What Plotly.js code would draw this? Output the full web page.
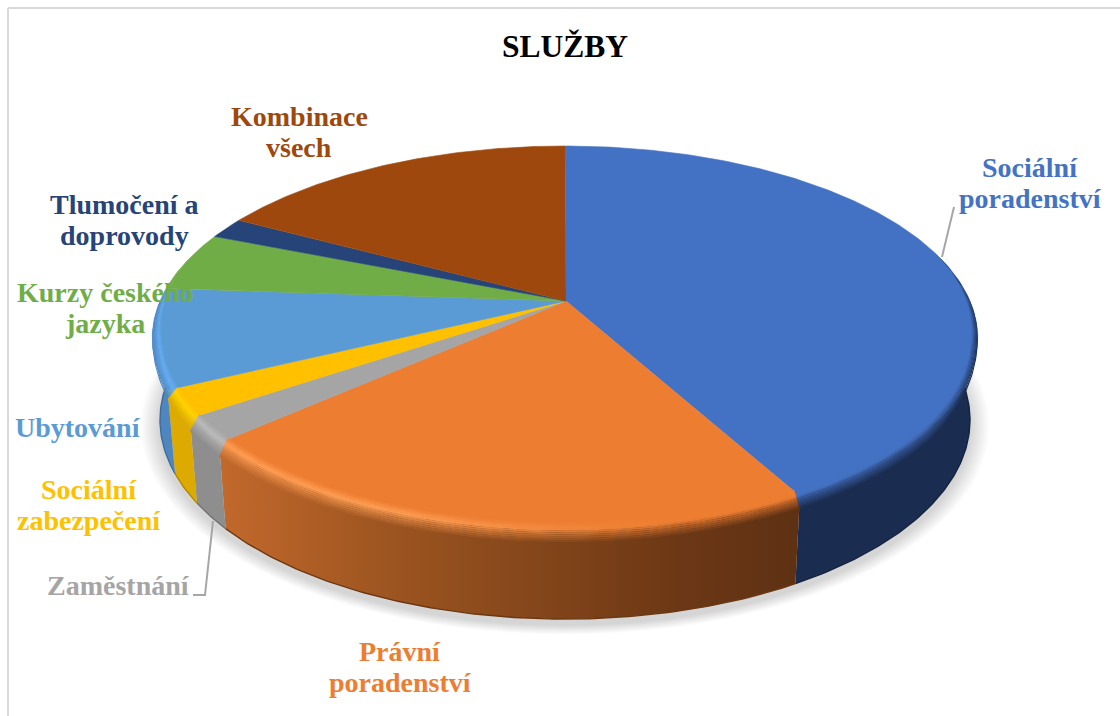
<!DOCTYPE html>
<html><head><meta charset="utf-8">
<script src="https://cdn.plot.ly/plotly-3.0.1.min.js"></script>
<style>html,body{margin:0;padding:0;background:#fff}#chart{width:1120px;height:716px}</style>
</head><body><div id="chart"></div>
<script>
// ---- data ----
const categories = ['Sociální<br>poradenství','Právní<br>poradenství','Zaměstnání','Sociální<br>zabezpečení','Ubytování','Kurzy českého<br>jazyka','Tlumočení a<br>doprovody','Kombinace<br>všech'];
const values = [42.0, 21.35, 2.1, 2.3, 8.35, 5.0, 1.8, 17.1];
const topColors = ['#4371c3','#ed7d31','#a5a5a5','#ffc000','#5b9bd5','#70ad47','#264478','#9e480e'];
const glowColors = ['#4371c3','#ff9f55','#bcbcbc','#ffd500','#66b0f6','#78b84c','#264478','#9e480e'];
const sideColors = ['#1a2d50',null,'#8e8e8e','#dcaa00','#4e86c0','#70ad47','#264478','#9e480e'];
const orangeSideX = [150,226,300,400,500,600,700,793,980];
const orangeSideC = ['#c66c2e','#c3692d','#b05f26','#9a5320','#8a4a1c','#793f17','#693616','#5e3113','#5e3113'];
const labelX = [1030,400,118,89,78,105,124,299];
const labelY = [167,651,585,489,427,292,204,116.5];
const labelColors = ['#4472c4','#ed7d31','#a5a5a5','#ffc000','#5b9bd5','#70ad47','#264478','#9e480e'];

// ---- projection of the tilted disc ----
const K = 0.193, CX = 565;
const TOP = {y0:301, a:184.9, b:405};
const BOT = {y0:381.6, a:191.6, b:397.4};
const ELL = {x:565, y:338};
const rad = d => d*Math.PI/180;
function proj(P, deg){
  const c = Math.sin(rad(deg)), s = -Math.cos(rad(deg)), w = 1 - K*s;
  return [CX + P.b*c/w, P.y0 + P.a*s/w, s];
}
function band(deg, o){
  const [x,y,s] = proj(TOP, deg);
  const tau = Math.max(0, Math.min(1, (s+0.25)/0.5));
  const tau2 = Math.max(0, Math.min(1, (s-0.15)/0.45));
  const sc = 1 - 0.032*(1-o)*tau;
  return [ELL.x + (x-ELL.x)*sc, ELL.y + (y-ELL.y)*sc + (-7+21*o)*tau2];
}
function hex(c){return [1,3,5].map(i=>parseInt(c.substr(i,2),16));}
function mix(a,b,t){const A=hex(a),B=hex(b);return '#'+A.map((v,i)=>Math.round(v+(B[i]-v)*t).toString(16).padStart(2,'0')).join('');}
function sideAt(i,x){
  if(sideColors[i]) return sideColors[i];
  for(let j=1;j<orangeSideX.length;j++) if(x<=orangeSideX[j]){
    return mix(orangeSideC[j-1],orangeSideC[j],(x-orangeSideX[j-1])/(orangeSideX[j]-orangeSideX[j-1]));
  }
  return orangeSideC[orangeSideC.length-1];
}
function glowAt(i,x){
  if(i!==1) return glowColors[i];
  const t=Math.max(0,Math.min(1,(x-400)/260));
  return mix(glowColors[1],topColors[1],t);
}
function profile(i,o,x){
  const T=topColors[i],H=glowAt(i,x),S=sideAt(i,x);
  if(o<.2) return T;
  if(o<.45) return mix(T,H,(o-.2)/.25);
  if(o<.65) return mix(H,mix(H,S,.45),(o-.45)/.2);
  return mix(mix(H,S,.45),S,Math.min(1,(o-.65)/.3));
}
const GX0=150,GX1=980;
function gradient(fn){
  const cs=[];for(let n=0;n<=14;n++){const f=n/14;cs.push([f,fn(GX0+(GX1-GX0)*f)]);}
  return {type:'horizontal',colorscale:cs,start:GX0,stop:GX1};
}
function poly(xs,ys,fill){
  const t={type:'scatter',mode:'lines',x:xs,y:ys,fill:'toself',hoverinfo:'skip',line:{width:0,color:'rgba(0,0,0,0)'}};
  if(typeof fill==='string'){t.fillcolor=fill;t.line={width:0.6,color:fill};} else t.fillgradient=fill;
  return t;
}
function arc(a,b,n){const r=[];for(let k=0;k<=n;k++)r.push(a+(b-a)*k/n);return r;}

const total = values.reduce((p,v)=>p+v,0);
const starts=[];let acc=0;values.forEach(v=>{starts.push(acc/total*360);acc+=v;});
const ends=starts.map((s,i)=>s+values[i]/total*360);
const traces=[];

// soft shadow below the disc
for(let n=14;n>=1;n--){
  const xs=[],ys=[],sc=1+n*0.0034;
  arc(0,360,120).forEach(d=>{const p=proj(BOT,d);xs.push(565+(p[0]-565)*sc);ys.push(420+(p[1]-420)*sc+6);});
  traces.push(poly(xs,ys,'rgba(0,0,0,0.0125)'));
  traces[traces.length-1].line={width:0,color:'rgba(0,0,0,0)'};
}
// side walls
values.forEach((v,i)=>{
  const a=Math.max(starts[i],90),b=Math.min(ends[i],270);
  if(b<=a) return;
  const ang=arc(a,b,Math.max(6,Math.round((b-a)*1.5)));
  const t=ang.map(d=>proj(TOP,d)),u=ang.map(d=>proj(BOT,d)).reverse();
  traces.push(poly(t.map(p=>p[0]).concat(u.map(p=>p[0])),t.map(p=>p[1]).concat(u.map(p=>p[1])),gradient(x=>sideAt(i,x))));
  traces.push({type:'scatter',mode:'lines',x:u.map(p=>p[0]),y:u.map(p=>p[1]),hoverinfo:'skip',line:{width:1.4,color:i===1?'#6b3812':mix(sideColors[i]||'#000000','#000000',.2)}});
});
// top surface
values.forEach((v,i)=>{
  const ang=arc(starts[i],ends[i],Math.max(6,Math.round((ends[i]-starts[i])*1.5)));
  const r=ang.map(d=>proj(TOP,d));
  traces.push(poly([CX+1].concat(r.map(p=>p[0])),[TOP.y0].concat(r.map(p=>p[1])),topColors[i]));
});
// bevel along the front rim
const LAYERS=14;
values.forEach((v,i)=>{
  const a=Math.max(starts[i],75.5),b=Math.min(ends[i],284.5);
  if(b<=a) return;
  const ang=arc(a,b,Math.max(4,Math.round((b-a)*1.2)));
  for(let n=0;n<LAYERS;n++){
    const o1=n/LAYERS,o2=(n+1)/LAYERS,om=(o1+o2)/2;
    if(om<.2) continue;
    const p=ang.map(d=>band(d,o1)),q=ang.map(d=>band(d,o2)).reverse();
    traces.push(poly(p.map(e=>e[0]).concat(q.map(e=>e[0])),p.map(e=>e[1]).concat(q.map(e=>e[1])),gradient(x=>profile(i,om,x))));
  }
});
// leader lines
const leaderA={x:[942,954],y:[257,207]}, leaderB={x:[213,205,193],y:[521,595,595]};
[leaderA,leaderB].forEach(l=>traces.push({type:'scatter',mode:'lines',x:l.x,y:l.y,hoverinfo:'skip',line:{width:2,color:'#a6a6a6'}}));

// labels, one annotation per line
const annotations=[];
categories.forEach((c,i)=>{
  c.split('<br>').forEach((line,j)=>annotations.push({
    x:labelX[i],y:labelY[i]+j*31,xref:'x',yref:'y',text:line,showarrow:false,xanchor:'center',yanchor:'middle',
    font:{family:'Liberation Serif',size:28,color:labelColors[i],weight:'bold'}
  }));
});

const layout={
  width:1120,height:716,margin:{l:0,r:0,t:0,b:0},showlegend:false,
  paper_bgcolor:'#fff',plot_bgcolor:'#fff',
  title:{text:'SLUŽBY',x:565/1120,xanchor:'center',y:1-46/716,yanchor:'middle',font:{family:'Liberation Serif',size:31.5,color:'#000',weight:'bold'}},
  xaxis:{range:[0,1120],visible:false,fixedrange:true},
  yaxis:{range:[716,0],visible:false,fixedrange:true},
  annotations,
  shapes:[
    {type:'line',xref:'x',yref:'y',x0:8,x1:1120,y0:8,y1:8,line:{color:'#d9d9d9',width:2}},
    {type:'line',xref:'x',yref:'y',x0:8,x1:8,y0:8,y1:716,line:{color:'#d9d9d9',width:2}}
  ]
};
Plotly.newPlot('chart',traces,layout,{staticPlot:true,displayModeBar:false});
</script></body></html>
